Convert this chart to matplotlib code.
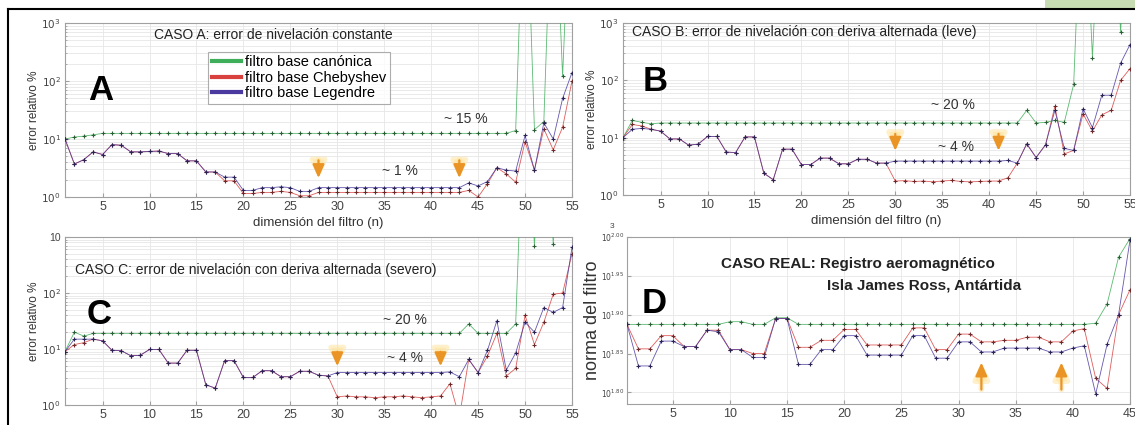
#!/usr/bin/env python3

from matplotlib import pyplot as plt
from matplotlib.lines import Line2D
from matplotlib.patches import Rectangle
import numpy as np

plt.rcParams['font.family'] = ['Liberation Sans', 'DejaVu Sans']

# filter dimension (n)
n_abc = list(range(1, 56))
n_d = list(range(1, 46))

# CASO A: relative error %
a_canon = [10, 10.8, 11.2, 11.8, 12.5, 12.5, 12.5, 12.5, 12.5, 12.5,
           12.5, 12.5, 12.5, 12.5, 12.5, 12.5, 12.5, 12.5, 12.5, 12.5,
           12.5, 12.5, 12.5, 12.5, 12.5, 12.5, 12.5, 12.5, 12.5, 12.5,
           12.5, 12.5, 12.5, 12.5, 12.5, 12.5, 12.5, 12.5, 12.5, 12.5,
           12.5, 12.5, 12.5, 12.5, 12.5, 12.5, 12.5, 12.5, 14, 1e6,
           14.5, 20, 1e6, 120, 1e6]
a_cheb = [10, 3.7, 4.4, 6.0, 5.4, 8.0, 7.8, 6.0, 6.0, 6.1,
          6.2, 5.6, 5.6, 4.2, 4.2, 2.7, 2.7, 1.9, 1.9, 1.15,
          1.15, 1.2, 1.2, 1.25, 1.2, 1.05, 1.05, 1.2, 1.2, 1.2,
          1.2, 1.2, 1.2, 1.2, 1.2, 1.2, 1.2, 1.2, 1.2, 1.2,
          1.2, 1.2, 1.2, 1.3, 1.0, 1.7, 3.2, 2.5, 1.8, 9,
          2.9, 15, 6.5, 16, 100]
a_leg = [10, 3.7, 4.4, 6.0, 5.4, 8.0, 7.8, 6.0, 6.0, 6.1,
         6.2, 5.6, 5.6, 4.2, 4.2, 2.7, 2.7, 2.2, 2.2, 1.3,
         1.3, 1.45, 1.45, 1.5, 1.45, 1.25, 1.25, 1.45, 1.45, 1.45,
         1.45, 1.45, 1.45, 1.45, 1.45, 1.45, 1.45, 1.45, 1.45, 1.45,
         1.45, 1.45, 1.45, 1.75, 1.55, 1.85, 3.2, 2.9, 2.8, 11.5,
         2.9, 19, 10, 50, 140]

# CASO B
b_canon = [10, 20, 18.5, 17.5, 18, 18, 18, 18, 18, 18,
           18, 18, 18, 18, 18, 18, 18, 18, 18, 18,
           18, 18, 18, 18, 18, 18, 18, 18, 18, 18,
           18, 18, 18, 18, 18, 18, 18, 18, 18, 18,
           18, 18, 18, 30, 18, 18.5, 20, 18.5, 85, 1e6,
           250, 1e6, 1e6, 700, 1e6]
b_cheb = [10, 17, 16, 14, 13, 9.5, 9.5, 7.4, 7.7, 10.5,
          10.5, 5.6, 5.5, 10.3, 10.3, 2.4, 1.85, 6.3, 6.3, 3.4,
          3.4, 4.4, 4.4, 3.5, 3.5, 4.2, 4.2, 3.6, 3.6, 1.75,
          1.78, 1.72, 1.75, 1.7, 1.75, 1.8, 1.72, 1.7, 1.72, 1.75,
          1.75, 2.0, 3.6, 7.8, 4.5, 7.5, 35, 5.2, 6.0, 26,
          13, 25, 30, 100, 160]
b_leg = [10, 14, 14.5, 14, 13, 9.5, 9.5, 7.4, 7.7, 10.5,
         10.5, 5.6, 5.5, 10.3, 10.3, 2.4, 1.85, 6.3, 6.3, 3.4,
         3.4, 4.4, 4.4, 3.5, 3.5, 4.2, 4.2, 3.6, 3.6, 3.9,
         3.9, 3.9, 3.9, 3.9, 3.9, 3.9, 3.9, 3.9, 3.9, 3.9,
         3.9, 4.0, 3.6, 7.8, 4.5, 7.5, 30, 6.5, 6.0, 32,
         15, 55, 55, 200, 420]

# CASO C
c_canon = [9, 20, 17, 19, 19, 19, 19, 19, 19, 19,
           19, 19, 19, 19, 19, 19, 19, 19, 19, 19,
           19, 19, 19, 19, 19, 19, 19, 19, 19, 19,
           19, 19, 19, 19, 19, 19, 19, 19, 19, 19,
           19, 19, 19, 28, 19, 19, 19, 19, 28, 1e6,
           700, 1e6, 750, 1e6, 1e6]
c_cheb = [9, 12, 13, 15, 14, 9.5, 9.3, 7.6, 7.7, 9.8,
          9.8, 5.6, 5.6, 9.5, 9.5, 2.3, 2.0, 6.2, 6.2, 3.1,
          3.1, 4.1, 4.1, 3.2, 3.2, 4.0, 4.0, 3.4, 3.3, 1.4,
          1.45, 1.4, 1.4, 1.35, 1.4, 1.4, 1.45, 1.4, 1.35, 1.4,
          1.45, 2.4, 0.6, 6.5, 3.8, 7.5, 19, 3.3, 4.5, 40,
          12, 30, 95, 100, 500]
c_leg = [9, 15, 15, 15, 14, 9.5, 9.3, 7.6, 7.7, 9.8,
         9.8, 5.6, 5.6, 9.5, 9.5, 2.3, 2.0, 6.2, 6.2, 3.1,
         3.1, 4.1, 4.1, 3.2, 3.2, 4.0, 4.0, 3.4, 3.3, 3.8,
         3.8, 3.8, 3.8, 3.8, 3.8, 3.8, 3.8, 3.8, 3.8, 3.8,
         3.8, 3.9, 3.2, 6.5, 3.8, 9.5, 32, 4.2, 8.5, 30,
         20, 55, 45, 55, 650]

# CASO REAL: filter norm, log10 values
d_canon = [1.8875, 1.8875, 1.8875, 1.8875, 1.8875, 1.8875, 1.8875, 1.8875, 1.8875, 1.891,
           1.891, 1.8875, 1.8875, 1.896, 1.896, 1.8875, 1.8875, 1.8875, 1.8875, 1.8875,
           1.8875, 1.8875, 1.8875, 1.8875, 1.8875, 1.8875, 1.8875, 1.8875, 1.8875, 1.8875,
           1.8875, 1.8875, 1.8875, 1.8875, 1.8875, 1.8875, 1.8875, 1.8875, 1.8875, 1.8875,
           1.8875, 1.889, 1.914, 1.974, 1.998]
d_cheb = [1.8875, 1.856, 1.856, 1.873, 1.873, 1.859, 1.859, 1.880, 1.880, 1.855,
          1.855, 1.850, 1.850, 1.895, 1.895, 1.858, 1.858, 1.867, 1.867, 1.881,
          1.881, 1.861, 1.861, 1.861, 1.861, 1.883, 1.883, 1.855, 1.855, 1.875,
          1.875, 1.865, 1.865, 1.867, 1.867, 1.871, 1.871, 1.865, 1.865, 1.879,
          1.882, 1.818, 1.805, 1.900, 1.932]
d_leg = [1.8875, 1.834, 1.834, 1.866, 1.866, 1.859, 1.859, 1.880, 1.878, 1.855,
         1.855, 1.845, 1.845, 1.895, 1.895, 1.836, 1.836, 1.855, 1.855, 1.873,
         1.873, 1.848, 1.848, 1.848, 1.848, 1.873, 1.873, 1.844, 1.844, 1.865,
         1.865, 1.852, 1.852, 1.857, 1.857, 1.857, 1.857, 1.852, 1.852, 1.857,
         1.860, 1.798, 1.862, 1.900, 1.996]

labels = ['filtro base canónica', 'filtro base Chebyshev', 'filtro base Legendre']

GREEN = '#3fae5a'
RED = '#d9413f'
BLUE = '#4a3aa0'
ORANGE = '#ea9426'
W, H = 1135, 425


def box(left, top, right, bottom):
    return [left / W, 1 - bottom / H, (right - left) / W, (bottom - top) / H]


def style(ax, xmax):
    ax.set_xlim(1, xmax)
    ax.set_xticks(range(5, xmax + 1, 5))
    ax.grid(True, which='both', color='#e6e6e6', lw=0.6)
    ax.set_axisbelow(True)
    for s in ax.spines.values():
        s.set_color('#a0a0a0')
        s.set_linewidth(0.8)
    ax.tick_params(which='both', direction='in', length=3, color='#a0a0a0',
                   labelcolor='#444444', labelsize=9, pad=3)
    ax.tick_params(which='minor', length=1.5)
    ax.tick_params(axis='y', labelsize=7.5, pad=3)


def draw(ax, x, canon, cheb, leg):
    # thin light lines, darker point marks
    ax.plot(x, canon, color=GREEN, lw=0.6, alpha=0.85, zorder=3)
    ax.plot(x, canon, ls='none', marker='+', ms=3, mew=0.8, color='#2c5f36', zorder=3)
    ax.plot(x, cheb, color=RED, lw=0.6, alpha=0.85, zorder=4)
    ax.plot(x, cheb, ls='none', marker='+', ms=3, mew=0.8, color='#6e2a2a', zorder=4)
    ax.plot(x, leg, color=BLUE, lw=0.6, alpha=0.85, zorder=5)
    ax.plot(x, leg, ls='none', marker='+', ms=3, mew=0.8, color='#2a2455', zorder=5)


def arrow(ax, x, y0, y1):
    ax.annotate('', xy=(x, y1), xytext=(x, y0),
                arrowprops=dict(arrowstyle='-|>,head_width=0.45,head_length=0.9',
                                color='#ffe39a', lw=4, alpha=0.5), zorder=6)
    ax.annotate('', xy=(x, y1), xytext=(x, y0),
                arrowprops=dict(arrowstyle='-|>,head_width=0.35,head_length=0.8',
                                color=ORANGE, lw=1.6), zorder=7)


def main():
    fig = plt.figure(figsize=(W / 100, H / 100), dpi=100)

    # frame of the slide
    fig.add_artist(Rectangle((1045 / W, 1 - 10 / H), 90 / W, 10 / H,
                             transform=fig.transFigure, color='#b9d4a0', alpha=0.8, lw=0))
    fig.add_artist(Line2D([8 / W, 1], [1 - 9 / H, 1 - 9 / H], color='black', lw=1.5))
    fig.add_artist(Line2D([8 / W, 8 / W], [0, 1 - 9 / H], color='black', lw=1.5))

    log_ticks = [1, 10, 100, 1000]

    # panel A
    ax = fig.add_axes(box(65, 23, 572, 197))
    ax.set_yscale('log')
    ax.set_ylim(1, 1000)
    style(ax, 55)
    draw(ax, n_abc, a_canon, a_cheb, a_leg)
    ax.set_yticks(log_ticks, ['$10^0$', '$10^1$', '$10^2$', '$10^3$'])
    ax.set_ylabel('error relativo %', fontsize=8.5, color='#333333', labelpad=1)
    ax.set_xlabel('dimensión del filtro (n)', fontsize=9.5, color='#333333', labelpad=3)
    ax.text(0.41, 0.93, 'CASO A: error de nivelación constante', transform=ax.transAxes,
            ha='center', va='center', fontsize=10, color='#222222')
    ax.text(0.071, 0.61, 'A', transform=ax.transAxes, ha='center', va='center',
            fontsize=25, fontweight='bold')
    ax.text(0.79, 0.45, '~ 15 %', transform=ax.transAxes, ha='center', va='center',
            fontsize=10, color='#333333')
    ax.text(0.66, 0.15, '~ 1 %', transform=ax.transAxes, ha='center', va='center',
            fontsize=10, color='#333333')
    arrow(ax, 28, 4.8, 1.9)
    arrow(ax, 43, 4.8, 1.9)
    handles = [Line2D([], [], color=c, lw=3) for c in (GREEN, RED, BLUE)]
    leg = ax.legend(handles, labels, loc='upper left', bbox_to_anchor=(0.282, 0.835),
                    fontsize=10.5, frameon=True, fancybox=False, handlelength=2.0,
                    handletextpad=0.3, borderpad=0.25, labelspacing=0.1,
                    borderaxespad=0)
    leg.get_frame().set_edgecolor('#999999')
    leg.get_frame().set_linewidth(0.8)

    # panel B
    ax = fig.add_axes(box(623, 23, 1130, 195))
    ax.set_yscale('log')
    ax.set_ylim(1, 1000)
    style(ax, 55)
    draw(ax, n_abc, b_canon, b_cheb, b_leg)
    ax.set_yticks(log_ticks, ['$10^0$', '$10^1$', '$10^2$', '$10^3$'])
    ax.set_ylabel('error relativo %', fontsize=8.5, color='#333333', labelpad=1)
    ax.set_xlabel('dimensión del filtro (n)', fontsize=9.5, color='#333333', labelpad=3)
    ax.text(0.018, 0.95, 'CASO B: error de nivelación con deriva alternada (leve)',
            transform=ax.transAxes, ha='left', va='center', fontsize=10, color='#222222')
    ax.text(0.064, 0.66, 'B', transform=ax.transAxes, ha='center', va='center',
            fontsize=25, fontweight='bold')
    ax.text(0.65, 0.525, '~ 20 %', transform=ax.transAxes, ha='center', va='center',
            fontsize=10, color='#333333')
    ax.text(0.656, 0.28, '~ 4 %', transform=ax.transAxes, ha='center', va='center',
            fontsize=10, color='#333333')
    arrow(ax, 30, 13, 5.3)
    arrow(ax, 41, 13, 5.3)

    # panel C
    ax = fig.add_axes(box(65, 237, 572, 405))
    ax.set_yscale('log')
    ax.set_ylim(1, 1000)
    style(ax, 55)
    draw(ax, n_abc, c_canon, c_cheb, c_leg)
    ax.set_yticks(log_ticks, ['$10^0$', '$10^1$', '$10^2$', '10'])
    ax.set_ylabel('error relativo %', fontsize=8.5, color='#333333', labelpad=1)
    ax.text(0.02, 0.806, 'CASO C: error de nivelación con deriva alternada (severo)',
            transform=ax.transAxes, ha='left', va='center', fontsize=10, color='#222222')
    ax.text(0.067, 0.54, 'C', transform=ax.transAxes, ha='center', va='center',
            fontsize=25, fontweight='bold')
    ax.text(0.67, 0.505, '~ 20 %', transform=ax.transAxes, ha='center', va='center',
            fontsize=10, color='#333333')
    ax.text(0.67, 0.28, '~ 4 %', transform=ax.transAxes, ha='center', va='center',
            fontsize=10, color='#333333')
    arrow(ax, 30, 10, 4.4)
    arrow(ax, 41, 10, 4.4)

    # panel D
    ax = fig.add_axes(box(627, 237, 1130, 404))
    ax.set_yscale('log')
    ax.set_ylim(10 ** 1.785, 10 ** 2.0)
    style(ax, 45)
    draw(ax, n_d, np.power(10, d_canon), np.power(10, d_cheb), np.power(10, d_leg))
    exps = [1.80, 1.85, 1.90, 1.95, 2.00]
    ax.set_yticks([10 ** e for e in exps], ['$10^{%.2f}$' % e for e in exps])
    ax.yaxis.set_minor_locator(plt.NullLocator())
    ax.tick_params(axis='y', labelsize=5.5, pad=2)
    ax.set_ylabel('norma del filtro', fontsize=13, color='#333333', labelpad=0)
    ax.text(0.46, 0.84, 'CASO REAL: Registro aeromagnético', transform=ax.transAxes,
            ha='center', va='center', fontsize=11, fontweight='bold', color='#222222')
    ax.text(0.59, 0.71, 'Isla James Ross, Antártida', transform=ax.transAxes,
            ha='center', va='center', fontsize=11, fontweight='bold', color='#222222')
    ax.text(0.054, 0.6, 'D', transform=ax.transAxes, ha='center', va='center',
            fontsize=25, fontweight='bold')
    arrow(ax, 32, 10 ** 1.80, 10 ** 1.842)
    arrow(ax, 39, 10 ** 1.80, 10 ** 1.842)
    fig.text(612 / W, 1 - 226 / H, '3', fontsize=6, color='#444444', ha='center', va='center')

    plt.savefig('out.png', dpi=100)


if __name__ == '__main__':
    main()
